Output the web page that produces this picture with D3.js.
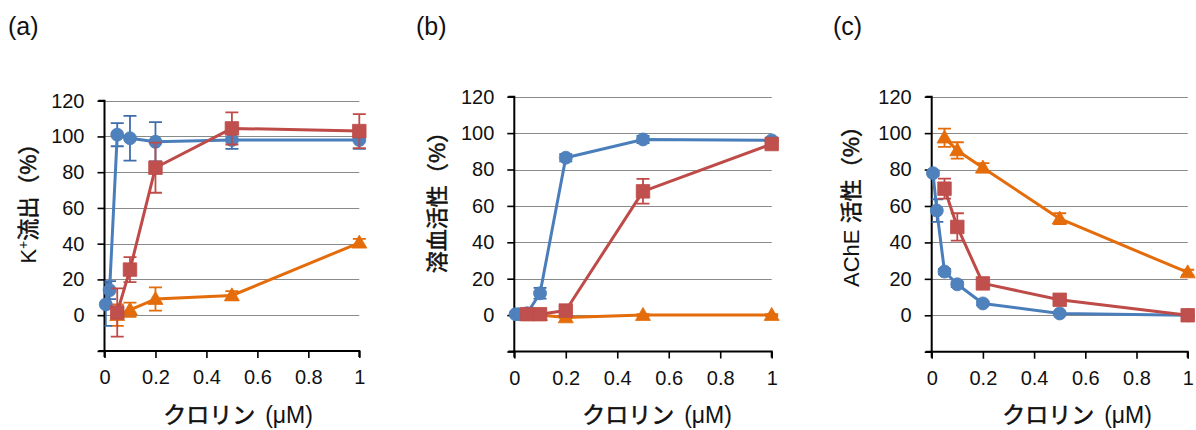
<!DOCTYPE html>
<html><head><meta charset="utf-8">
<script src="https://cdn.jsdelivr.net/npm/d3@7"></script>
<style>
body{margin:0;background:#fff}
svg{display:block}
text{fill:#111}
</style>
</head><body>
<svg id="chart" width="1196" height="430"></svg>
<script>
// Concentrations (µM)
const doseBlue = [0.005, 0.02, 0.05, 0.1, 0.2, 0.5, 1];
const doseOther = [0.05, 0.1, 0.2, 0.5, 1];

const xTicks = [0, 0.2, 0.4, 0.6, 0.8, 1];
const yTicks = [-20, 0, 20, 40, 60, 80, 100, 120];
const gridValues = [0, 20, 40, 60, 80, 100, 120];
const panelLetters = ["(a)", "(b)", "(c)"];

// (a) K+ efflux (%)
const effluxBlue = [6, 14, 101, 99, 97, 98, 98];
const effluxBlueErr = [12, 5, 6.5, 12.5, 11, 5, 5];
const effluxRed = [1.5, 25.5, 82.5, 104.5, 103];
const effluxRedErr = [13.5, 7, 14, 9, 9.5];
const effluxOrange = [0, 3, 9, 11, 40.5];
const effluxOrangeErr = [6, 4, 6.5, 2.5, 2.2];

// (b) hemolytic activity (%)
const hemoBlue = [0.5, 0.5, 1, 12, 86.5, 96.5, 96];
const hemoBlueErr = [0.5, 0.5, 0.5, 3, 2, 2, 1.5];
const hemoRed = [0.5, 0.5, 2.5, 68, 94];
const hemoRedErr = [0.5, 0.5, 1, 6.8, 1.5];
const hemoOrange = [0, 0, -1.3, 0, 0];
const hemoOrangeErr = [0.5, 0.5, 0.5, 0.5, 0.5];

// (c) AChE activity (%)
const acheBlue = [78, 57.5, 24, 17, 6.5, 1, 0];
const acheBlueErr = [1.5, 6.2, 1.5, 1.5, 1, 0.5, 0.5];
const acheRed = [69.5, 48.5, 17.5, 8.5, 0];
const acheRedErr = [5.5, 7.5, 1.5, 1.5, 0.5];
const acheOrange = [97.5, 90.5, 81, 53, 23.5];
const acheOrangeErr = [5, 4.5, 2.5, 3, 1.5];

const COLORS = {
  blue:   {line: "#4A7EBB", fill: "#4F81BD", err: "#3F6DAA"},
  red:    {line: "#BE4B48", fill: "#C0504D", err: "#BE4B48"},
  orange: {line: "#E46C0A", fill: "#E46C0A", err: "#E46C0A"}
};

const FONT = "'Liberation Sans', Arial, 'Noto Sans CJK JP', sans-serif";
const CJK = "'Noto Sans CJK JP', 'Liberation Sans', sans-serif";

const panels = [
  {
    letter: panelLetters[0], letterX: 8,
    x0: 104.5, x1: 359.3, yTop: 100.7, yBot: 350.9,
    titleX: 238, ytitleX: 28, ytitleY: 198,
    ytitle: [["K", FONT, 0], ["+", FONT, -8], ["流出", CJK, 8], ["（%）", CJK, 0]],
    series: [
      {key: "orange", x: doseOther, y: effluxOrange, e: effluxOrangeErr, shape: "tri"},
      {key: "blue",   x: doseBlue,  y: effluxBlue,   e: effluxBlueErr,   shape: "circ"},
      {key: "red",    x: doseOther, y: effluxRed,    e: effluxRedErr,    shape: "sq"}
    ]
  },
  {
    letter: panelLetters[1], letterX: 416,
    x0: 514.3, x1: 771.7, yTop: 96.7, yBot: 351.5,
    titleX: 657, ytitleX: 437, ytitleY: 197,
    ytitle: [["溶血活性", CJK, 0], ["（%）", CJK, 0]],
    series: [
      {key: "orange", x: doseOther, y: hemoOrange, e: hemoOrangeErr, shape: "tri"},
      {key: "blue",   x: doseBlue,  y: hemoBlue,   e: hemoBlueErr,   shape: "circ"},
      {key: "red",    x: doseOther, y: hemoRed,    e: hemoRedErr,    shape: "sq"}
    ]
  },
  {
    letter: panelLetters[2], letterX: 833,
    x0: 931.7, x1: 1187.7, yTop: 96.7, yBot: 351.7,
    titleX: 1077, ytitleX: 851, ytitleY: 201,
    ytitle: [["AChE ", FONT, 0], ["活性", CJK, 0], ["（%）", CJK, 0]],
    series: [
      {key: "orange", x: doseOther, y: acheOrange, e: acheOrangeErr, shape: "tri"},
      {key: "blue",   x: doseBlue,  y: acheBlue,   e: acheBlueErr,   shape: "circ"},
      {key: "red",    x: doseOther, y: acheRed,    e: acheRedErr,    shape: "sq"}
    ]
  }
];

const svg = d3.select("#chart");
const defs = svg.append("defs");

const symbolFor = {
  circ: d3.symbol().type(d3.symbolCircle).size(Math.PI * 6.5 * 6.5),
  sq:   d3.symbol().type(d3.symbolSquare).size(13.5 * 13.5),
  tri:  d3.symbol().type(d3.symbolTriangle).size(Math.sqrt(3) / 4 * 15 * 15)
};

// slightly heavier CJK strokes, between regular and bold
function cjkStyle(sel) {
  sel.style("font-family", CJK).style("font-weight", 400)
    .style("stroke", "#111").style("stroke-width", "0.55px");
}

panels.forEach((p, pi) => {
  const x = d3.scaleLinear().domain([0, 1]).range([p.x0, p.x1]);
  const y = d3.scaleLinear().domain([-20, 120]).range([p.yBot, p.yTop]);
  const g = svg.append("g");

  // panel letter
  g.append("text").attr("x", p.letterX).attr("y", 35)
    .style("font-family", FONT).style("font-size", "25px").text(p.letter);

  // horizontal gridlines
  g.append("g").selectAll("line").data(gridValues).join("line")
    .attr("x1", p.x0).attr("x2", p.x1)
    .attr("y1", d => Math.round(y(d)) + 0.5).attr("y2", d => Math.round(y(d)) + 0.5)
    .attr("stroke", "#8a8a8a").attr("stroke-width", 1);

  // y axis
  const ya = g.append("g").attr("transform", `translate(${p.x0},0)`)
    .call(d3.axisLeft(y).tickValues(yTicks).tickSize(7).tickPadding(13)
      .tickFormat(d => d < 0 ? "" : d3.format("d")(d)));
  // x axis
  const xa = g.append("g").attr("transform", `translate(0,${p.yBot})`)
    .call(d3.axisBottom(x).tickValues(xTicks).tickSize(7).tickPadding(12)
      .tickFormat(d => String(d)));
  [ya, xa].forEach(a => {
    a.select(".domain").attr("stroke", "#000").attr("stroke-width", 2);
    a.selectAll(".tick line").attr("stroke", "#000").attr("stroke-width", 1.6);
    a.selectAll("text").style("font-family", FONT).style("font-size", "20px").attr("fill", "#111");
  });
  xa.selectAll(".tick text").attr("y", 19).attr("dy", "0.71em");
  xa.select(".domain").attr("d", `M${p.x0},6V0H${p.x1}V6`);
  ya.select(".domain").attr("d", `M-6,${p.yTop}H0V${p.yBot}H-6`);

  // x axis title
  const xt = g.append("text").attr("x", p.titleX).attr("y", 423).attr("text-anchor", "middle")
    .style("font-size", "23px");
  xt.append("tspan").call(cjkStyle).text("クロリン");
  xt.append("tspan").style("font-family", FONT).attr("dx", 10).text("(μM)");

  // y axis title
  const yt = g.append("text")
    .attr("transform", `translate(${p.ytitleX},${p.ytitleY}) rotate(-90)`)
    .attr("text-anchor", "middle").attr("dy", "0.36em").style("font-size", "22px");
  p.ytitle.forEach(([t, fam, shift]) => {
    const ts = yt.append("tspan").text(t);
    if (fam === CJK) ts.call(cjkStyle); else ts.style("font-family", fam);
    if (t === "+") ts.style("font-size", "14px");
    if (shift) ts.attr("dy", shift);
  });

  // clip error bars at the left edge of the plot area
  const clipId = "clip" + pi;
  defs.append("clipPath").attr("id", clipId).append("rect")
    .attr("x", p.x0).attr("y", 0).attr("width", p.x1 - p.x0 + 30).attr("height", 430);

  p.series.forEach(s => {
    const c = COLORS[s.key];
    const pts = s.x.map((xv, i) => ({x: xv, y: s.y[i], e: s.e[i]}));
    const sg = g.append("g");

    // error bars
    const eg = sg.append("g").attr("clip-path", `url(#${clipId})`)
      .attr("stroke", c.err).attr("stroke-width", 1.8).attr("fill", "none");
    pts.forEach(d => {
      const cx = x(d.x), top = y(d.y + d.e), bot = y(d.y - d.e);
      eg.append("path").attr("d",
        `M${cx},${top}V${bot}M${cx - 6.5},${top}H${cx + 6.5}M${cx - 6.5},${bot}H${cx + 6.5}`);
    });

    // connecting line
    sg.append("path").datum(pts)
      .attr("d", d3.line().x(d => x(d.x)).y(d => y(d.y)))
      .attr("fill", "none").attr("stroke", c.line).attr("stroke-width", 3)
      .attr("stroke-linejoin", "round");

    // markers
    sg.append("g").selectAll("path").data(pts).join("path")
      .attr("transform", d => `translate(${x(d.x)},${y(d.y) + (s.shape === "tri" ? 1 : 0)})`)
      .attr("d", symbolFor[s.shape])
      .attr("fill", c.fill).attr("stroke", c.line).attr("stroke-width", 0.8);
  });
});
</script>
</body></html>
